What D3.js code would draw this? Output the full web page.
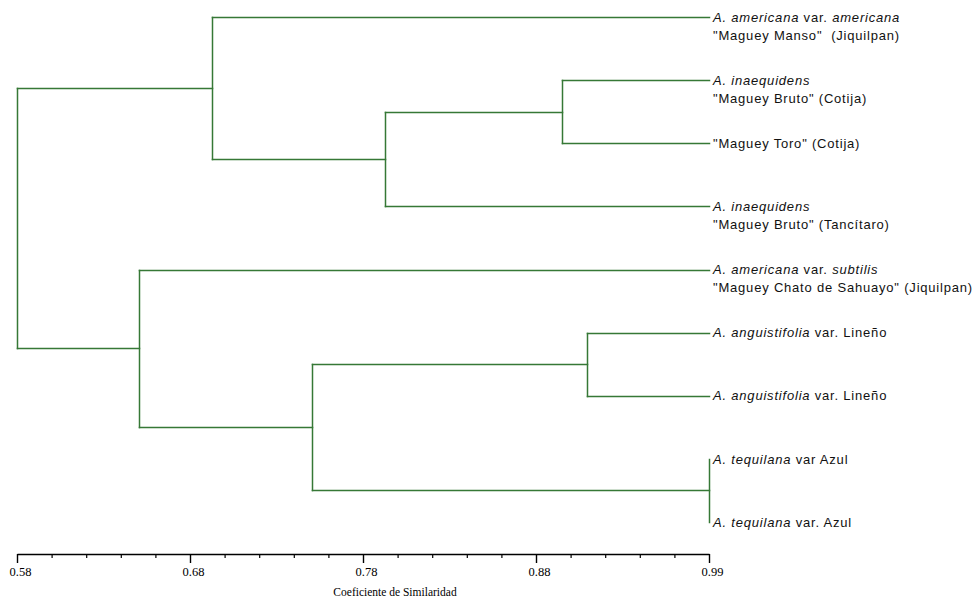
<!DOCTYPE html>
<html>
<head>
<meta charset="utf-8">
<script src="https://cdn.jsdelivr.net/npm/d3@7"></script>
<style>
  html, body { margin: 0; padding: 0; background: #fff; }
  svg { display: block; }
</style>
</head>
<body>
<svg id="chart" width="977" height="599"></svg>
<script>
// ---- Data ----
// Leaf labels, top to bottom. Each line is a list of [text, italic] segments.
const leafLine1 = [
  [["A. americana", true], [" var. ", false], ["americana", true]],
  [["A. inaequidens", true]],
  [["\"Maguey Toro\" (Cotija)", false]],
  [["A. inaequidens", true]],
  [["A. americana", true], [" var. ", false], ["subtilis", true]],
  [["A. anguistifolia", true], [" var. Lineño", false]],
  [["A. anguistifolia", true], [" var. Lineño", false]],
  [["A. tequilana", true], [" var Azul", false]],
  [["A. tequilana", true], [" var. Azul", false]]
];
const leafLine2 = [
  "\"Maguey Manso\"  (Jiquilpan)",
  "\"Maguey Bruto\" (Cotija)",
  null,
  "\"Maguey Bruto\" (Tancítaro)",
  "\"Maguey Chato de Sahuayo\" (Jiquilpan)",
  null, null, null, null
];
// Linkage: node index 9.. are merges; children refer to leaves (0-8) or earlier merges.
const mergeLeft  = [1, 9, 0, 5, 7, 12, 4, 11];
const mergeRight = [2, 3, 10, 6, 8, 13, 14, 15];
const mergeSim   = [0.903, 0.798, 0.6955, 0.918, 0.99, 0.755, 0.652, 0.58];

const majorTicks = [0.58, 0.6825, 0.785, 0.8875, 0.99];
const tickLabels = ["0.58", "0.68", "0.78", "0.88", "0.99"];
const axisTitle = "Coeficiente de Similaridad";

// ---- Layout ----
const svg = d3.select("#chart");
const lineColor = "#367836";
const nLeaves = leafLine1.length;

const x = d3.scaleLinear().domain([0.58, 0.99]).range([17, 709]);
const y = d3.scalePoint().domain(d3.range(nLeaves)).range([17, 522]);

const nodeX = [], nodeY = [];
for (let i = 0; i < nLeaves; i++) { nodeX.push(x(0.99)); nodeY.push(y(i)); }
mergeSim.forEach((s, k) => {
  const a = mergeLeft[k], b = mergeRight[k];
  nodeX.push(x(s));
  nodeY.push((nodeY[a] + nodeY[b]) / 2);
});

const g = svg.append("g")
  .attr("fill", "none")
  .attr("stroke", lineColor)
  .attr("stroke-width", 1.5)
  .attr("stroke-linecap", "square");

mergeSim.forEach((s, k) => {
  const a = mergeLeft[k], b = mergeRight[k];
  const px = Math.round(x(s)) + 0.5;
  g.append("line").attr("x1", px).attr("x2", px)
    .attr("y1", Math.round(nodeY[a]) + 0.5).attr("y2", Math.round(nodeY[b]) + 0.5);
  [a, b].forEach(c => {
    const cx = Math.round(nodeX[c]) + 0.5;
    if (cx !== px) {
      const cy = Math.round(nodeY[c]) + 0.5;
      g.append("line").attr("x1", px).attr("x2", cx).attr("y1", cy).attr("y2", cy);
    }
  });
});

// ---- Leaf labels ----
const labels = svg.append("g")
  .attr("font-family", "Arial, 'Liberation Sans', sans-serif")
  .attr("font-size", 13)
  .attr("letter-spacing", "0.8px")
  .attr("fill", "#111");

for (let i = 0; i < nLeaves; i++) {
  const t = labels.append("text")
    .attr("x", x(0.99) + 4)
    .attr("y", y(i))
    .attr("dy", "0.36em");
  leafLine1[i].forEach(([txt, it]) => {
    t.append("tspan")
      .attr("font-style", it ? "italic" : "normal")
      .style("white-space", "pre")
      .text(txt);
  });
  if (leafLine2[i]) {
    labels.append("text")
      .attr("x", x(0.99) + 4)
      .attr("y", y(i) + 18)
      .attr("dy", "0.36em")
      .style("white-space", "pre")
      .text(leafLine2[i]);
  }
}

// ---- Axis ----
const minorTicks = [];
for (let k = 0; k < majorTicks.length - 1; k++) {
  const step = (majorTicks[k + 1] - majorTicks[k]) / 5;
  for (let j = 1; j < 5; j++) minorTicks.push(majorTicks[k] + j * step);
}

const axisY = 554;
const minorAxis = d3.axisBottom(x).tickValues(minorTicks).tickSize(4).tickSizeOuter(0).tickFormat("");
const majorAxis = d3.axisBottom(x).tickValues(majorTicks).tickSize(9).tickSizeOuter(0)
  .tickFormat((d, i) => tickLabels[i]);

const ga = svg.append("g").attr("transform", `translate(0,${axisY})`).call(minorAxis);
ga.selectAll("text").remove();
ga.select(".domain").attr("stroke", "#000").attr("stroke-width", 1.4);
ga.selectAll(".tick line").attr("stroke", "#000").attr("stroke-width", 1.2);

const gm = svg.append("g").attr("transform", `translate(0,${axisY})`).call(majorAxis);
gm.select(".domain").remove();
gm.selectAll(".tick line").attr("stroke", "#000").attr("stroke-width", 1.4);
gm.selectAll(".tick text")
  .attr("font-family", "'Times New Roman', 'Liberation Serif', serif")
  .attr("font-size", 12.5)
  .attr("fill", "#000")
  .attr("y", 0)
  .attr("dy", 0)
  .attr("transform", "translate(3,22)");

svg.append("text")
  .attr("x", 395)
  .attr("y", 596)
  .attr("text-anchor", "middle")
  .attr("font-family", "'Times New Roman', 'Liberation Serif', serif")
  .attr("font-size", 11.5)
  .attr("fill", "#000")
  .text(axisTitle);
</script>
</body>
</html>
